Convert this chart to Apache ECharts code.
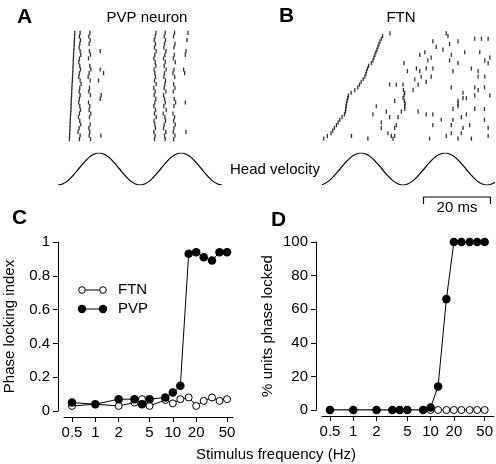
<!DOCTYPE html>
<html><head><meta charset="utf-8">
<script src="https://cdn.jsdelivr.net/npm/echarts@6/dist/echarts.min.js"></script>
<style>html,body{margin:0;padding:0;background:#fff}#c{width:496px;height:464px}</style>
</head><body><div id="c"></div>
<script>
// ---------- Data ----------
const freqs = [0.5, 1, 2, 3.2, 4, 5, 8, 10, 12.5, 16, 20, 25, 32, 40, 50];
const plFTN = [0.03, 0.04, 0.03, 0.05, 0.07, 0.03, 0.065, 0.045, 0.07, 0.08, 0.03, 0.06, 0.08, 0.06, 0.07];
const plPVP = [0.05, 0.04, 0.07, 0.07, 0.04, 0.07, 0.08, 0.11, 0.15, 0.93, 0.94, 0.91, 0.89, 0.94, 0.94];
const pctFTN = [0, 0, 0, 0, 0, 0, 0, 0, 0, 0, 0, 0, 0, 0, 0];
const pctPVP = [0, 0, 0, 0, 0, 0, 0, 1.5, 14, 66, 100, 100, 100, 100, 100];
const freqTicks = [0.5, 1, 2, 5, 10, 20, 50];

// PVP neuron raster: spike times (ms) per trial, top trial first
const pvpSpikes = [
  [5.0, 6.6, 9.5, 29.2, 32.0, 34.8, 38.8],
  [4.95, 6.4, 9.2, 29.0, 31.7, 34.5],
  [4.9, 6.7, 9.6, 28.7, 32.1, 38.5],
  [4.85, 6.5, 9.3, 29.1, 31.8, 34.9],
  [4.8, 6.3, 28.8, 31.6, 34.6],
  [4.7, 6.6, 9.4, 12.6, 29.3, 32.2, 38.2],
  [4.65, 6.8, 9.7, 28.9, 31.9, 34.7, 38.0],
  [4.6, 6.4, 9.1, 28.6, 31.5, 34.4],
  [4.55, 6.2, 29.0, 32.0, 35.0],
  [4.5, 6.5, 9.5, 29.2, 31.7],
  [4.45, 6.7, 9.8, 12.6, 28.7, 32.3, 34.6, 37.5],
  [4.4, 6.4, 9.3, 13.6, 28.9, 31.8, 34.3, 37.8],
  [4.35, 6.2, 9.0, 29.1, 31.6, 34.8],
  [4.3, 6.6, 9.6, 12.1, 28.8, 32.1],
  [4.2, 6.9, 29.3, 31.9, 34.5],
  [4.15, 6.5, 9.4, 28.6, 31.7, 34.9],
  [4.1, 6.3, 9.2, 29.0, 32.2, 34.4],
  [4.05, 6.6, 9.7, 12.9, 28.7, 31.5],
  [4.0, 6.4, 12.6, 29.2, 31.8, 34.7],
  [3.95, 6.2, 9.1, 28.9, 32.0, 35.1, 38.0],
  [3.9, 6.5, 9.5, 28.6, 31.6, 34.6],
  [3.85, 6.7, 9.3, 29.1, 32.3],
  [3.8, 6.4, 9.8, 28.8, 31.4, 34.3],
  [3.7, 6.1, 9.4, 29.3, 31.9, 34.8],
  [3.65, 6.5, 28.7, 32.1, 34.5],
  [3.6, 6.8, 9.6, 28.9, 31.7, 35.0],
  [3.55, 6.3, 9.2, 29.1, 31.5, 34.6],
  [3.5, 6.0, 9.5, 28.6, 32.2, 34.4, 38.2],
  [3.45, 6.6, 9.3, 12.8, 29.0, 31.8, 34.9],
  [3.4, 6.4, 9.7, 28.8, 32.0, 34.5]
];

// FTN raster: spike times (ms) per trial, top trial first
const ftnSpikes = [
  [20.0, 36.8],
  [17.8, 37.3],
  [17.4, 45.3, 47.3, 49.3],
  [17.0, 32.8, 40.3],
  [16.7, 37.8],
  [16.4, 33.8],
  [16.1, 35.8],
  [15.8, 30.4, 42.3, 46.8],
  [15.5, 28.9, 38.3],
  [15.2, 32.3, 49.8],
  [14.9, 31.3, 37.8, 48.3],
  [14.4, 24.2, 40.3, 49.3],
  [13.6],
  [13.3, 27.9, 30.8, 32.8, 44.3],
  [13.0, 25.2, 28.9, 38.8, 46.3],
  [12.8],
  [12.5, 29.3, 32.3, 46.3, 48.3],
  [12.0, 27.4],
  [11.4, 30.8],
  [10.9, 19.9, 21.9, 23.9, 28.4],
  [10.4, 38.3, 45.3, 48.2],
  [9.5, 24.0, 26.9, 46.3],
  [8.4, 24.4, 41.8],
  [7.6, 24.2, 45.3, 49.8],
  [7.4, 23.9, 41.8, 42.8],
  [7.2, 21.4, 24.3, 40.3],
  [7.0, 24.5, 40.3],
  [6.9, 15.9, 24.4, 40.3],
  [6.8, 24.4, 38.8, 45.3, 48.2],
  [6.7, 18.9, 23.4, 28.4],
  [6.4, 14.9, 30.8, 32.8, 42.8],
  [5.7, 19.9, 22.4, 41.3],
  [5.0, 35.3, 38.8, 48.2],
  [4.5, 17.4],
  [4.0, 21.9, 32.8, 38.3, 43.8],
  [3.4, 17.4, 21.4, 41.8, 49.3],
  [2.9],
  [2.4, 19.4, 38.3, 41.3],
  [1.3, 8.5, 20.4, 21.4, 36.8, 49.3],
  [0.2, 13.4, 20.9, 31.8, 40.3, 44.3]
];

// Head velocity traces (normalized), sample times in ms
const headTimeA = [0, 1.53, 3.06, 4.59, 6.13, 7.66, 9.19, 10.72, 12.25, 13.78, 15.31, 16.84, 18.38, 19.91, 21.44, 22.97, 24.5, 26.03, 27.56, 29.09, 30.63, 32.16, 33.69, 35.22, 36.75, 38.28, 39.81, 41.34, 42.88, 44.41, 45.94, 47.47, 49.0];
const headTimeB = [-1.19, 0.38, 1.94, 3.51, 5.08, 6.64, 8.21, 9.78, 11.34, 12.91, 14.48, 16.04, 17.61, 19.18, 20.75, 22.31, 23.88, 25.45, 27.01, 28.58, 30.15, 31.71, 33.28, 34.85, 36.41, 37.98, 39.55, 41.11, 42.68, 44.25, 45.81, 47.38, 48.95, 50.52, 52.08];
const headVel = [-1, -0.92, -0.71, -0.38, 0, 0.38, 0.71, 0.92, 1, 0.92, 0.71, 0.38, 0, -0.38, -0.71, -0.92, -1, -0.92, -0.71, -0.38, 0, 0.38, 0.71, 0.92, 1, 0.92, 0.71, 0.38, 0, -0.38, -0.71, -0.92, -1, -0.92, -0.71];
const scaleBarMs = [30, 50];

// ---------- Chart ----------
const FONT = 'Liberation Sans, Arial, Helvetica, sans-serif';
const chart = echarts.init(document.getElementById('c'), null, {renderer: 'canvas'});
const lg = v => Math.log10(v);
const rasterPts = (tr) => tr.flatMap((spk, i) => spk.map(t => [t, i + 0.5]));

const xFreq = (gi, min, max) => ({
  type: 'value', gridIndex: gi, min: min, max: max, offset: 6,
  axisLine: {show: true, onZero: false, lineStyle: {color: '#000', width: 1}},
  axisTick: {show: true, length: 5, lineStyle: {color: '#000'}, customValues: freqTicks.map(lg)},
  axisLabel: {color: '#000', fontSize: 15, fontFamily: FONT, margin: 8,
    customValues: freqTicks.map(lg),
    formatter: v => String(Math.round(Math.pow(10, v) * 10) / 10)},
  splitLine: {show: false}
});
const yVal = (gi, max, interval, name) => ({
  type: 'value', gridIndex: gi, min: 0, max: max, interval: interval, offset: 6,
  name: name, nameLocation: 'middle', nameGap: 41, nameRotate: 90,
  nameTextStyle: {color: '#000', fontSize: 15, fontFamily: FONT},
  axisLine: {show: true, onZero: false, lineStyle: {color: '#000', width: 1}},
  axisTick: {show: true, length: 5, lineStyle: {color: '#000'}},
  axisLabel: {color: '#000', fontSize: 15, fontFamily: FONT, margin: 8},
  splitLine: {show: false}
});

const openSeries = (xi, vals) => ({
  type: 'line', xAxisIndex: xi, yAxisIndex: xi,
  data: freqs.map((f, i) => [lg(f), vals[i]]),
  symbol: 'circle', symbolSize: 7, showAllSymbol: true,
  lineStyle: {color: '#000', width: 1},
  itemStyle: {color: '#fff', borderColor: '#000', borderWidth: 1}, z: 2
});
const filledSeries = (xi, vals) => ({
  type: 'line', xAxisIndex: xi, yAxisIndex: xi,
  data: freqs.map((f, i) => [lg(f), vals[i]]),
  symbol: 'circle', symbolSize: 8.5, showAllSymbol: true,
  lineStyle: {color: '#000', width: 1},
  itemStyle: {color: '#000', borderColor: '#000', borderWidth: 0}, z: 3
});

const option = {
  animation: false,
  backgroundColor: '#fff',
  grid: [
    {left: 58, top: 31, width: 165, height: 110},   // 0 PVP raster
    {left: 58, top: 153, width: 165, height: 32},   // 1 PVP head velocity
    {left: 323, top: 32, width: 170, height: 108},  // 2 FTN raster
    {left: 323, top: 153, width: 170, height: 32},  // 3 FTN head velocity
    {left: 323, top: 197, width: 170, height: 7},   // 4 scale bar
    {left: 64, top: 242, width: 169, height: 169},  // 5 C
    {left: 322, top: 242, width: 172, height: 168}  // 6 D
  ],
  xAxis: [
    {type: 'value', gridIndex: 0, min: 0, max: 49.25, show: false},
    {type: 'value', gridIndex: 1, min: 0, max: 49.25, show: false},
    {type: 'value', gridIndex: 2, min: 0, max: 50.75, show: false},
    {type: 'value', gridIndex: 3, min: 0, max: 50.75, show: false},
    {type: 'value', gridIndex: 4, min: 0, max: 50.75, show: false},
    xFreq(5, -0.404, 1.776),
    xFreq(6, -0.404, 1.819)
  ],
  yAxis: [
    {type: 'value', gridIndex: 0, min: 0, max: 30, inverse: true, show: false},
    {type: 'value', gridIndex: 1, min: -1, max: 1, show: false},
    {type: 'value', gridIndex: 2, min: 0, max: 40, inverse: true, show: false},
    {type: 'value', gridIndex: 3, min: -1, max: 1, show: false},
    {type: 'value', gridIndex: 4, min: 0, max: 1, show: false},
    yVal(5, 1, 0.2, 'Phase locking index'),
    yVal(6, 100, 20, '% units phase locked')
  ],
  series: [
    {type: 'scatter', xAxisIndex: 0, yAxisIndex: 0, data: rasterPts(pvpSpikes),
      symbol: 'rect', symbolSize: [1.3, 4.2], itemStyle: {color: '#000'}, silent: true},
    {type: 'line', xAxisIndex: 1, yAxisIndex: 1, data: headTimeA.map((t, i) => [t, headVel[i]]),
      smooth: true, showSymbol: false, symbol: 'none', lineStyle: {color: '#000', width: 1.2}},
    {type: 'scatter', xAxisIndex: 2, yAxisIndex: 2, data: rasterPts(ftnSpikes),
      symbol: 'rect', symbolSize: [1.3, 4.2], itemStyle: {color: '#000'}, silent: true},
    {type: 'line', xAxisIndex: 3, yAxisIndex: 3, data: headTimeB.map((t, i) => [t, headVel[i]]),
      smooth: true, showSymbol: false, symbol: 'none', clip: true, lineStyle: {color: '#000', width: 1.2}},
    {type: 'line', xAxisIndex: 4, yAxisIndex: 4,
      data: [[scaleBarMs[0], 0], [scaleBarMs[0], 1], [scaleBarMs[1], 1], [scaleBarMs[1], 0]],
      showSymbol: false, symbol: 'none', clip: false, lineStyle: {color: '#000', width: 1.2}},
    openSeries(5, plFTN),
    filledSeries(5, plPVP),
    openSeries(6, pctFTN),
    filledSeries(6, pctPVP)
  ],
  graphic: [
    {type: 'text', x: 17, y: 17, style: {text: 'A', font: 'bold 21px ' + FONT, fill: '#000', textVerticalAlign: 'middle'}},
    {type: 'text', x: 279, y: 16, style: {text: 'B', font: 'bold 21px ' + FONT, fill: '#000', textVerticalAlign: 'middle'}},
    {type: 'text', x: 12, y: 218, style: {text: 'C', font: 'bold 21px ' + FONT, fill: '#000', textVerticalAlign: 'middle'}},
    {type: 'text', x: 271, y: 220, style: {text: 'D', font: 'bold 21px ' + FONT, fill: '#000', textVerticalAlign: 'middle'}},
    {type: 'text', x: 147, y: 18, style: {text: 'PVP neuron', font: '15px ' + FONT, fill: '#000', textAlign: 'center', textVerticalAlign: 'middle'}},
    {type: 'text', x: 401, y: 18, style: {text: 'FTN', font: '15px ' + FONT, fill: '#000', textAlign: 'center', textVerticalAlign: 'middle'}},
    {type: 'text', x: 275, y: 170, style: {text: 'Head velocity', font: '15px ' + FONT, fill: '#000', textAlign: 'center', textVerticalAlign: 'middle'}},
    {type: 'text', x: 457, y: 208, style: {text: '20 ms', font: '15px ' + FONT, fill: '#000', textAlign: 'center', textVerticalAlign: 'middle'}},
    {type: 'text', x: 276, y: 455, style: {text: 'Stimulus frequency (Hz)', font: '15px ' + FONT, fill: '#000', textAlign: 'center', textVerticalAlign: 'middle'}},
    // legend in C
    {type: 'line', shape: {x1: 82, y1: 290, x2: 103, y2: 290}, style: {stroke: '#000', lineWidth: 1}},
    {type: 'circle', shape: {cx: 82, cy: 290, r: 3.3}, style: {fill: '#fff', stroke: '#000', lineWidth: 1}},
    {type: 'circle', shape: {cx: 103, cy: 290, r: 3.3}, style: {fill: '#fff', stroke: '#000', lineWidth: 1}},
    {type: 'text', x: 118, y: 290, style: {text: 'FTN', font: '15px ' + FONT, fill: '#000', textVerticalAlign: 'middle'}},
    {type: 'line', shape: {x1: 82, y1: 309, x2: 103, y2: 309}, style: {stroke: '#000', lineWidth: 1}},
    {type: 'circle', shape: {cx: 82, cy: 309, r: 4.2}, style: {fill: '#000'}},
    {type: 'circle', shape: {cx: 103, cy: 309, r: 4.2}, style: {fill: '#000'}},
    {type: 'text', x: 118, y: 309, style: {text: 'PVP', font: '15px ' + FONT, fill: '#000', textVerticalAlign: 'middle'}}
  ]
};
chart.setOption(option);
</script>
</body></html>
